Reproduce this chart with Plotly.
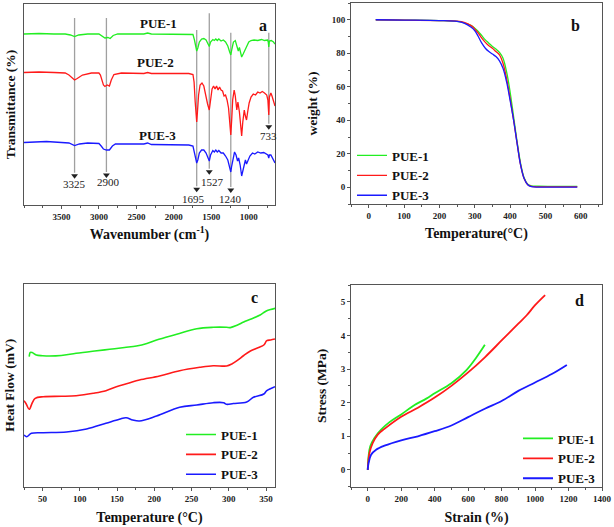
import plotly.graph_objects as go

W, H = 614, 527
FONT = "Liberation Serif, Times New Roman, serif"
GREEN, RED, BLUE = "#22ee22", "#ff1a1a", "#1a1aff"
NAMES = ["PUE-1", "PUE-2", "PUE-3"]
COLORS = [GREEN, RED, BLUE]

# ---------------- (a) FTIR ----------------
ftir_w1 = [4000, 3800, 3600, 3450, 3380, 3325, 3270, 3150, 3000, 2960, 2920, 2880, 2850, 2810, 2750, 2400, 2350, 2300,
           1800, 1745, 1725, 1710, 1695, 1680, 1660, 1630, 1600, 1570, 1545, 1527, 1510, 1480, 1460, 1440, 1420, 1400,
           1370, 1340, 1310, 1280, 1255, 1240, 1225, 1205, 1180, 1160, 1140, 1125, 1110, 1095, 1075, 1050, 1030, 1000,
           970, 930, 880, 830, 790, 750, 740, 733, 725, 700, 670, 650]
ftir_t1 = [171, 171.5, 171, 171, 170, 168.5, 170, 171, 171, 169, 167, 167.5, 166.5, 169.5, 171, 171, 172, 171,
           171, 170.5, 165, 158, 154, 157, 163, 166, 166.5, 165, 161, 158.5, 163, 165.5, 164.5, 166, 164.5, 166,
           164, 165, 163, 159, 153, 150, 156, 163, 164.5, 160, 154, 157.5, 153, 148, 151, 155, 158, 163,
           164.5, 165, 164.5, 165.5, 164.5, 165, 163, 158, 164, 164.5, 163, 161]

ftir_w2 = [4000, 3800, 3600, 3450, 3400, 3350, 3325, 3290, 3220, 3100, 3000, 2980, 2960, 2940, 2920, 2890, 2860, 2835,
           2800, 2700, 2400, 2350, 2300, 1800, 1745, 1730, 1715, 1705, 1695, 1685, 1670, 1650, 1625, 1600, 1575, 1550,
           1527, 1510, 1490, 1470, 1450, 1430, 1410, 1390, 1370, 1350, 1330, 1310, 1290, 1270, 1255, 1240, 1228, 1215,
           1195, 1180, 1160, 1145, 1125, 1110, 1095, 1080, 1060, 1045, 1030, 1015, 995, 970, 940, 910, 880, 850, 820,
           790, 760, 745, 733, 725, 705, 690, 670, 650]
ftir_t2 = [132.5, 133, 132.5, 132, 130, 126.5, 125, 126.5, 130, 132, 132, 130, 125, 120, 118.5, 120, 119, 125,
           130.5, 132, 131.5, 132.5, 131.5, 131.5, 130.5, 123, 103, 90, 83, 93, 110, 120, 122, 119, 109, 101,
           95, 108, 116, 119, 116, 119, 115, 118, 115, 114, 109, 110, 105, 97, 83, 70, 85, 105,
           115, 109, 95, 103, 93, 80, 69, 83, 95, 89, 85, 93, 102, 108, 111, 110, 113, 112, 113.5,
           112, 110, 105, 90, 108, 112, 109, 105, 99]

ftir_w3 = [4000, 3800, 3700, 3500, 3400, 3325, 3260, 3150, 3000, 2970, 2940, 2900, 2860, 2820, 2780, 2400, 2350, 2300,
           1800, 1745, 1725, 1710, 1695, 1680, 1660, 1630, 1600, 1570, 1545, 1527, 1510, 1480, 1460, 1440, 1420, 1400,
           1370, 1340, 1310, 1280, 1260, 1240, 1228, 1210, 1190, 1170, 1150, 1135, 1115, 1095, 1080, 1060, 1045, 1030,
           1010, 985, 950, 920, 880, 840, 800, 770, 745, 733, 725, 705, 680, 650]
ftir_t3 = [62.5, 63, 63.5, 62.5, 62, 59.5, 61, 62, 61.5, 59, 56, 55, 55, 59, 61, 61, 62, 60.5,
           60, 59, 53, 46, 42, 45, 52, 55, 55, 52, 47, 44, 50, 54.5, 53, 55, 53, 54.5,
           52, 52, 49, 45, 39, 33, 39, 48, 53, 50, 44, 47, 40, 29, 35, 42, 45, 41,
           45, 49, 52, 51, 53, 52, 52.5, 51, 50, 47, 50, 50, 47, 42]
ftir_ticks = [3500, 3000, 2500, 2000, 1500, 1000]

peak_w = [3325, 2900, 1695, 1527, 1240, 733]
peak_labels = ["3325", "2900", "1695", "1527", "1240", "733"]
arrow_top = [187, 187, 175, 191.7, 172.3, 172.3]
arrow_tip = [29.3, 30, 15.7, 33.3, 15, 78.3]
label_y = [21, 23, 6, 23.5, 6, 69]
label_dx = [0, 2, -3, 3, 0, 0]
pue_label_w = [2202, 2246, 2224]
pue_label_y = [181, 142, 70]

# ---------------- (b) TGA ----------------
tga_T = [20, 100, 200, 250, 270, 290, 300, 310, 320, 330, 340, 350, 360, 370, 380, 390, 400, 410, 420, 430, 440,
         450, 460, 480, 520, 590]
tga_1 = [100, 99.8, 99.5, 99.0, 98.2, 96.5, 95, 93, 90.5, 88, 86, 84, 82.5, 80.5, 77, 69, 57, 42, 27, 14, 5.5,
         1.8, 0.8, 0.6, 0.5, 0.5]
tga_2 = [100, 99.8, 99.5, 99.2, 98.5, 96.5, 94.5, 92, 89, 86.5, 84.5, 83, 81, 79, 74, 65, 53, 40, 26, 13, 5,
         1.5, 0.5, 0.2, 0.2, 0.2]
tga_3 = [100, 99.8, 99.5, 99.0, 98, 95.5, 93.5, 90, 86, 83, 81, 79.5, 78, 75.5, 71, 63, 52, 40, 26, 13, 5,
         1.5, 0.4, 0.1, 0.1, 0.1]

# ---------------- (c) DSC ----------------
dsc_T1 = [32, 33.5, 36, 41.5, 50, 59, 75, 95, 120, 140, 160, 176, 190, 203, 230, 257, 279, 297, 302, 311, 320,
          329, 342, 347, 351, 356, 362]
dsc_1 = [130, 134.4, 134.2, 131.7, 131, 130.7, 131.2, 133.4, 135.7, 137.4, 139.2, 140.7, 143.2, 146.7, 152.4,
         158, 159.4, 159.4, 159.1, 161.4, 164.7, 167.4, 171.7, 174.2, 176, 177.2, 178.4]
dsc_T2 = [25, 28, 32, 36, 40, 51, 75, 95, 118, 135, 149, 165, 180, 207, 234, 261, 279, 297, 304, 311, 320, 329,
          340, 347, 351, 356, 362]
dsc_2 = [86, 82.7, 77.4, 83.7, 88.4, 90, 90.4, 91, 93.4, 96, 100, 103.4, 106.7, 110.7, 116, 119.4, 121, 120.7,
         122.7, 126, 131.2, 135.7, 139.2, 141.7, 146, 146.7, 147.7]
dsc_T3 = [25, 28.6, 35, 51, 82, 109, 135, 153, 162, 171, 180, 203, 234, 257, 279, 293, 297, 306, 324, 333, 347,
          351, 362]
dsc_3 = [51.7, 50, 53.4, 54, 54.7, 57.7, 63.4, 67.4, 69, 66.7, 65.7, 70.7, 79.4, 81.7, 84, 84, 82.4, 83.2, 84.7,
         89.4, 92.7, 96, 100]

# ---------------- (d) Stress-strain ----------------
ss_e1 = [0, 5, 15, 40, 80, 130, 200, 280, 350, 400, 500, 590, 650, 700]
ss_s1 = [0, 0.4, 0.7, 0.95, 1.2, 1.42, 1.65, 1.93, 2.12, 2.28, 2.58, 2.97, 3.35, 3.72]
ss_e2 = [0, 10, 30, 60, 100, 200, 300, 400, 500, 600, 700, 800, 900, 950, 1000, 1060]
ss_s2 = [0, 0.5, 0.8, 1.05, 1.22, 1.58, 1.85, 2.15, 2.5, 2.9, 3.35, 3.85, 4.35, 4.6, 4.9, 5.2]
ss_e3 = [0, 5, 20, 50, 100, 200, 300, 400, 500, 600, 700, 800, 900, 1000, 1100, 1190]
ss_s3 = [0, 0.2, 0.45, 0.6, 0.72, 0.88, 1.0, 1.15, 1.32, 1.57, 1.82, 2.05, 2.35, 2.6, 2.85, 3.12]


def px(x):
    return x / W


def py(y):
    return 1 - y / H


fig = go.Figure()

# panel a traces
for (wx, ty), name, col in zip([(ftir_w1, ftir_t1), (ftir_w2, ftir_t2), (ftir_w3, ftir_t3)], NAMES, COLORS):
    fig.add_trace(go.Scatter(x=wx, y=ty, mode="lines", line=dict(color=col, width=1.3),
                             name=name, showlegend=False, xaxis="x", yaxis="y"))
# peak marker shafts (shapes) and arrowheads (markers)
for w, yt, ytip in zip(peak_w, arrow_top, arrow_tip):
    fig.add_shape(type="line", xref="x", yref="y", x0=w, x1=w, y0=yt, y1=ytip + 3,
                  line=dict(color="#a0a0a0", width=1.3), layer="below")
fig.add_trace(go.Scatter(x=peak_w, y=arrow_tip, mode="markers", showlegend=False, hoverinfo="skip",
                         marker=dict(symbol="triangle-down", size=6, color="#222"), xaxis="x", yaxis="y"))

# panel b
for ys, name, col in zip([tga_1, tga_2, tga_3], NAMES, COLORS):
    fig.add_trace(go.Scatter(x=tga_T, y=ys, mode="lines", line=dict(color=col, width=1.3, shape="spline"),
                             name=name, legend="legend", xaxis="x2", yaxis="y2"))
# panel c
for xs, ys, name, col in zip([dsc_T1, dsc_T2, dsc_T3], [dsc_1, dsc_2, dsc_3], NAMES, COLORS):
    fig.add_trace(go.Scatter(x=xs, y=ys, mode="lines", line=dict(color=col, width=1.6, shape="spline"),
                             name=name, legend="legend2", xaxis="x3", yaxis="y3"))
# panel d
for xs, ys, name, col in zip([ss_e1, ss_e2, ss_e3], [ss_s1, ss_s2, ss_s3], NAMES, COLORS):
    fig.add_trace(go.Scatter(x=xs, y=ys, mode="lines", line=dict(color=col, width=1.8, shape="spline"),
                             name=name, legend="legend3", xaxis="x4", yaxis="y4"))

AX = "#555555"
tickfont = dict(family=FONT, size=9, color="#222", weight="bold")
xtitlefont = dict(family=FONT, size=14, color="#111", weight="bold")
ytitlefont = dict(family=FONT, size=13.5, color="#111", weight="bold")


def xax(domain, anchor, rng, dtick, minor_dtick, title, standoff=8, tickvals=None):
    d = dict(domain=domain, anchor=anchor, range=rng, dtick=dtick, showline=True, mirror=True,
             linecolor=AX, linewidth=1, ticks="outside", ticklen=3, tickcolor=AX,
             minor=dict(dtick=minor_dtick, ticks="outside", ticklen=2, tickcolor=AX),
             showgrid=False, zeroline=False, tickfont=tickfont, automargin=False,
             title=dict(text=title, font=xtitlefont, standoff=standoff))
    if tickvals is not None:
        d["tickvals"] = tickvals
        d.pop("dtick")
    return d


def yax(domain, anchor, rng, dtick, minor_dtick, title, standoff=8, showlabels=True, ticks="outside"):
    d = dict(domain=domain, anchor=anchor, range=rng, showline=True, mirror=True,
             linecolor=AX, linewidth=1, ticks=ticks, ticklen=3, tickcolor=AX,
             showgrid=False, zeroline=False, tickfont=tickfont, showticklabels=showlabels, automargin=False,
             title=dict(text=title, font=ytitlefont, standoff=standoff))
    if dtick is not None:
        d["dtick"] = dtick
        d["minor"] = dict(dtick=minor_dtick, ticks="outside", ticklen=2, tickcolor=AX)
    return d


xa_dom = [px(24), px(275)]
xb_dom = [px(351), px(602)]

legend_common = dict(bgcolor="rgba(0,0,0,0)", borderwidth=0,
                     font=dict(family=FONT, size=13, color="#111", weight="bold"),
                     itemwidth=30, tracegroupgap=0, xanchor="left", yanchor="middle")

fig.update_layout(
    width=W, height=H, margin=dict(l=0, r=0, t=0, b=0, autoexpand=False),
    paper_bgcolor="white", plot_bgcolor="white",
    font=dict(family=FONT),
    xaxis=xax(xa_dom, "y", [4000, 650], 500, 250, "Wavenumber (cm<sup>-1</sup>)", standoff=8,
              tickvals=ftir_ticks),
    yaxis=yax([py(205), py(4)], "x", [0, 201], None, None, "Transmittance (%)", standoff=4,
              showlabels=False, ticks=""),
    xaxis2=xax(xb_dom, "y2", [-50, 660], 100, 50, "Temperature(°C)", standoff=8),
    yaxis2=yax([py(204), py(3)], "x2", [-10, 110], 20, 10, "weight (%)", standoff=10),
    xaxis3=xax(xa_dom, "y3", [25, 362], 50, 25, "Temperature (°C)", standoff=9),
    yaxis3=yax([py(486.7), py(284)], "x3", [0, 202.7], None, None, "Heat Flow (mV)", standoff=5,
               showlabels=False, ticks=""),
    xaxis4=xax(xb_dom, "y4", [-100, 1400], 200, 100, "Strain (%)", standoff=9),
    yaxis4=yax([py(486.7), py(285)], "x4", [-0.5, 5.5], 1, 0.5, "Stress (MPa)", standoff=10),
    legend=dict(x=px(352), y=py(175.5), **legend_common),
    legend2=dict(x=px(181), y=py(454.5), **legend_common),
    legend3=dict(x=px(518), y=py(458.5), **legend_common),
)

ann = []
for w, lab, yl, dx in zip(peak_w, peak_labels, label_y, label_dx):
    ann.append(dict(x=w, y=yl, xref="x", yref="y", text=lab, showarrow=False, xshift=dx,
                    font=dict(family=FONT, size=11, color="#222")))
for w, yv, name in zip(pue_label_w, pue_label_y, NAMES):
    ann.append(dict(x=w, y=yv, xref="x", yref="y", text=name, showarrow=False,
                    font=dict(family=FONT, size=13, color="#111", weight="bold")))
for letter, (lx, ly) in zip(["a", "b", "c", "d"], [(263, 15), (582, 15), (254, 297), (586, 300)]):
    ann.append(dict(x=px(lx), y=py(ly), xref="paper", yref="paper", text=letter, showarrow=False,
                    font=dict(family=FONT, size=16, color="#111", weight="bold")))
fig.update_layout(annotations=ann)

fig.write_html(
    "out.html",
    config={"responsive": False, "displayModeBar": False},
    post_script="document.body.style.margin='0';document.body.style.overflow='hidden';",
)
